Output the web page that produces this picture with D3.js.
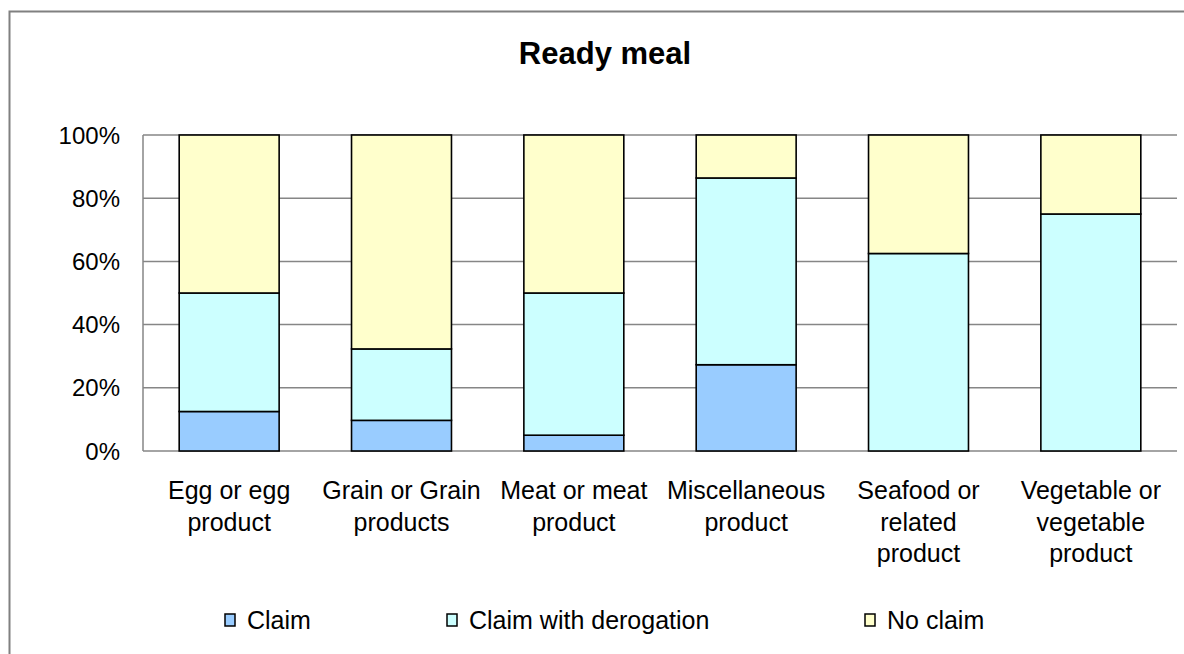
<!DOCTYPE html>
<html><head><meta charset="utf-8">
<script src="https://cdn.jsdelivr.net/npm/d3@7"></script>
<style>body{margin:0;background:#fff}svg{display:block}</style>
</head><body>
<svg id="c" width="1184" height="654"></svg>
<script>
const categories = [["Egg or egg","product"],["Grain or Grain","products"],["Meat or meat","product"],["Miscellaneous","product"],["Seafood or","related","product"],["Vegetable or","vegetable","product"]];
const seriesNames = ["Claim","Claim with derogation","No claim"];
const claim = [12.5, 9.7, 5, 27.3, 0, 0];
const claimDerogation = [37.5, 22.6, 45, 59.1, 62.5, 75];
const noClaim = [50, 67.7, 50, 13.6, 37.5, 25];
const colors = ["#99ccff","#ccffff","#ffffcc"];
const yTicks = [0,20,40,60,80,100];
const title = "Ready meal";

const svg = d3.select("#c");
const font = "'Liberation Sans', Arial, sans-serif";
svg.append("rect").attr("x",9.5).attr("y",11.5).attr("width",1200).attr("height",700)
  .attr("fill","#fff").attr("stroke","#808080").attr("stroke-width",2);

const L=143,R=1177,T=135,B=451;
const idx = categories.map((d,i)=>i);
const x = d3.scaleBand().domain(idx).range([L,R]).paddingInner(0.42).paddingOuter(0.21);
const y = d3.scaleLinear().domain([0,100]).range([B,T]);

svg.append("text").attr("x",605).attr("y",64).attr("text-anchor","middle")
  .attr("font-family",font).attr("font-weight","bold").attr("font-size",31).text(title);

// gridlines
svg.append("g").selectAll("line").data(yTicks).join("line")
  .attr("x1",L).attr("x2",R).attr("y1",d=>y(d)).attr("y2",d=>y(d))
  .attr("stroke","#868686").attr("stroke-width",1.5);
svg.append("line").attr("x1",L).attr("x2",L).attr("y1",T).attr("y2",B).attr("stroke","#868686").attr("stroke-width",1.5);

// y labels
svg.append("g").selectAll("text").data(yTicks).join("text")
  .attr("x",120).attr("y",d=>y(d)).attr("dy","0.36em").attr("text-anchor","end")
  .attr("font-family",font).attr("font-size",24).text(d=>d+"%");

const rows = idx.map(i=>({i, Claim:claim[i], "Claim with derogation":claimDerogation[i], "No claim":noClaim[i]}));
const stack = d3.stack().keys(seriesNames)(rows);
stack.forEach((s,k)=>{
  svg.append("g").selectAll("rect").data(s.filter(d=>d[1]-d[0]>0)).join("rect")
    .attr("x",d=>x(d.data.i)).attr("width",x.bandwidth())
    .attr("y",d=>y(d[1])).attr("height",d=>y(d[0])-y(d[1]))
    .attr("fill",colors[k]).attr("stroke","#000").attr("stroke-width",1.6);
});

// x labels
const xl = svg.append("g");
categories.forEach((lines,i)=>{
  const cx = x(i)+x.bandwidth()/2;
  const t = xl.append("text").attr("text-anchor","middle").attr("font-family",font).attr("font-size",25)
    .attr("x",cx).attr("y",499);
  lines.forEach((ln,j)=>t.append("tspan").attr("x",cx).attr("dy",j?31.5:0).text(ln));
});

// legend
const legX = [225,447,865];
seriesNames.forEach((n,k)=>{
  svg.append("rect").attr("x",legX[k]).attr("y",614).attr("width",10).attr("height",12)
    .attr("fill",colors[k]).attr("stroke","#000").attr("stroke-width",1.5);
  svg.append("text").attr("x",legX[k]+22).attr("y",620).attr("dy","0.36em")
    .attr("font-family",font).attr("font-size",25).text(n);
});
</script>
</body></html>
